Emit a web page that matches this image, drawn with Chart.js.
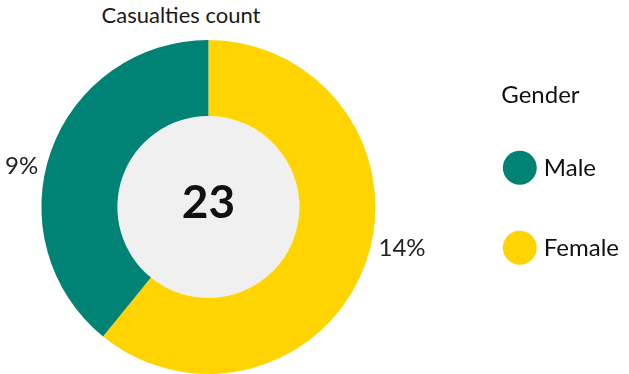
<!DOCTYPE html>
<html>
<head>
<meta charset="utf-8">
<script src="https://cdn.jsdelivr.net/npm/chart.js@4/dist/chart.umd.min.js"></script>
<style>
  html, body { margin: 0; padding: 0; background: #fff; overflow: hidden; }
  #wrap { position: relative; width: 629px; height: 374px; overflow: hidden; }
  #title {
    position: absolute; left: 0; top: 1px; width: 362px;
    text-align: center; font: 22px Lato, sans-serif; color: #1a1a1a;
  }
  /* canvas hangs a little off the left edge so the ring sits clear of the legend */
  #chart { position: absolute; left: -35px; top: 0; }
</style>
</head>
<body>
<div id="wrap">
  <div id="title">Casualties count</div>
  <canvas id="chart" width="664" height="374"></canvas>
</div>
<script>
// Female first so it runs clockwise from 12 o'clock, Male fills the left side
const categories = ['Female', 'Male'];
const counts = [14, 9];
const colors = ['#ffd400', '#008274'];
const legendTitle = 'Gender';

const FONT = 'Lato, sans-serif';

// grey disc in the hole, total in the middle, value labels outside the ring
const ringExtras = {
  id: 'ringExtras',
  beforeDatasetsDraw(chart) {
    const ctx = chart.ctx;
    const arc = chart.getDatasetMeta(0).data[0];
    const p = arc.getProps(['x', 'y', 'innerRadius'], true);
    ctx.save();
    ctx.fillStyle = '#f0f0f0';
    ctx.beginPath();
    ctx.arc(p.x, p.y, p.innerRadius, 0, Math.PI * 2);
    ctx.fill();
    ctx.restore();
  },
  afterDatasetsDraw(chart) {
    const ctx = chart.ctx;
    const meta = chart.getDatasetMeta(0);
    const first = meta.data[0].getProps(['x', 'y'], true);
    const total = counts.reduce((a, b) => a + b, 0);
    ctx.save();
    ctx.fillStyle = '#111';
    ctx.textAlign = 'center';
    ctx.textBaseline = 'middle';
    ctx.font = 'bold 46px ' + FONT;
    ctx.fillText(String(total), first.x, first.y - 4);

    ctx.font = '24px ' + FONT;
    ctx.fillStyle = '#222';
    meta.data.forEach((arc, i) => {
      const p = arc.getProps(['x', 'y', 'startAngle', 'endAngle', 'outerRadius'], true);
      const mid = (p.startAngle + p.endAngle) / 2 - 6 * Math.PI / 180;
      const r = p.outerRadius + 8;
      const tx = p.x + Math.cos(mid) * r;
      const ty = p.y + Math.sin(mid) * r;
      ctx.textAlign = Math.cos(mid) < 0 ? 'right' : 'left';
      ctx.fillText(counts[i] + '%', tx, ty);
    });
    ctx.restore();
  }
};

new Chart(document.getElementById('chart'), {
  type: 'doughnut',
  data: {
    labels: categories,
    datasets: [{
      data: counts,
      backgroundColor: colors,
      borderWidth: 0,
      hoverOffset: 0
    }]
  },
  options: {
    responsive: false,
    animation: false,
    cutout: '54.5%',
    layout: { padding: { top: 40, left: 0, right: 0, bottom: 0 } },
    plugins: {
      tooltip: { enabled: false },
      legend: {
        position: 'right',
        align: 'start',
        reverse: true,
        title: {
          display: true,
          text: legendTitle,
          color: '#111',
          font: { family: FONT, size: 24, lineHeight: 0.7 },
          padding: { top: 43, bottom: 0 },
          position: 'center'
        },
        labels: {
          usePointStyle: true,
          pointStyle: 'circle',
          color: '#111',
          font: { family: FONT, size: 24 },
          padding: 56
        }
      }
    }
  },
  plugins: [ringExtras]
});
</script>
</body>
</html>
